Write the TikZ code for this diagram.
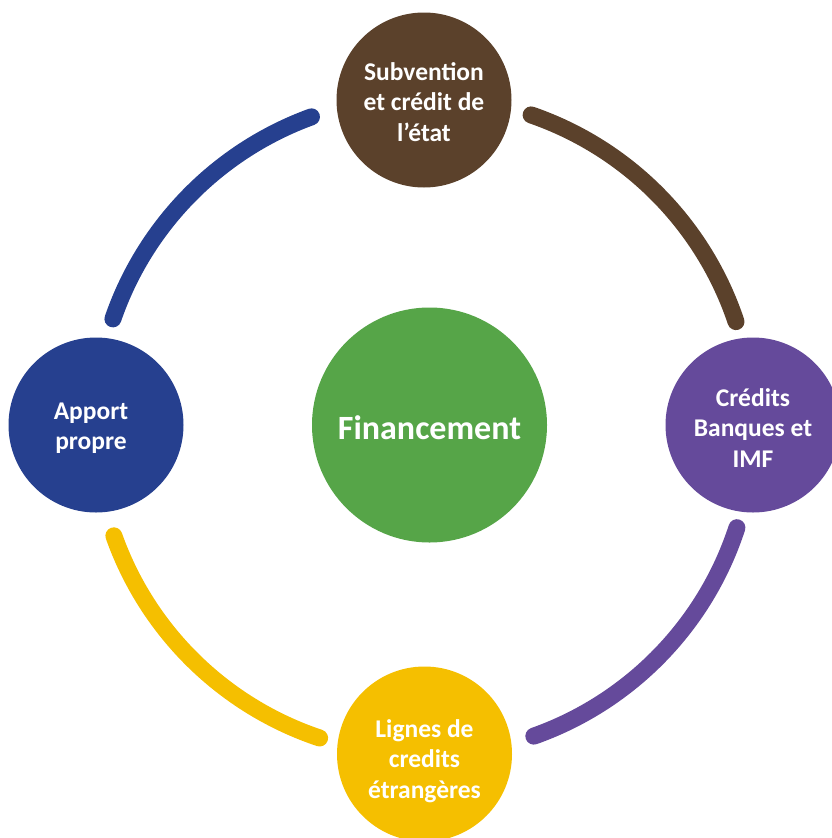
\documentclass[tikz,border=0pt]{standalone}
\usepackage{fontspec}
\setmainfont{Carlito}
\usetikzlibrary{calc}
\definecolor{cblue}{HTML}{26408F}
\definecolor{cbrown}{HTML}{5B412B}
\definecolor{cpurple}{HTML}{654A9B}
\definecolor{cyellow}{HTML}{F5BF00}
\definecolor{cgreen}{HTML}{56A548}
\tikzset{
  bubble/.style={circle, inner sep=0pt, minimum size=175pt, fill=#1},
  bubbletext/.style={inner sep=0pt, text=white, align=center,
    font=\bfseries\fontsize{25.5}{30.5}\selectfont},
  hub/.style={circle, inner sep=0pt, minimum size=235pt, fill=cgreen},
  hubtext/.style={inner sep=0pt, text=white, font=\bfseries\fontsize{34}{40}\selectfont},
  ring/.style={line width=17pt, line cap=round}
}
\begin{document}
\begin{tikzpicture}[x=1pt,y=-1pt]
\useasboundingbox (0,0) rectangle (832,838);
\coordinate (O) at (424,426);
% arcs
\draw[ring, cblue]   ($(O)+(-110:329)$) arc (-110:-161:329);
\draw[ring, cbrown]  ($(O)+(-71:329)$)  arc (-71:-18.5:329);
\draw[ring, cpurple] ($(O)+(18:329)$)   arc (18:70.5:329);
\draw[ring, cyellow] ($(O)+(160.5:329)$) arc (160.5:108.5:329);
% circles
\node[hub] (fin) at (429.5,425) {};
\node[bubble=cbrown] (top) at (424,100) {};
\node[bubble=cpurple] (right) at (753,425) {};
\node[bubble=cblue] (left) at (96,425) {};
\node[bubble=cyellow] (bottom) at (424.5,754) {};
% labels
\node[hubtext] (fintext) at ($(fin)+(0,3)$) {Financement};
\node[bubbletext] (toptext) at ($(top)+(0,2)$) {Subvention\\et crédit de\\l’état};
\node[bubbletext] (righttext) at ($(right)+(0,3)$) {Crédits\\Banques et\\IMF};
\node[bubbletext] (lefttext) at ($(left)+(-5,3)$) {Apport\\propre};
\node[bubbletext] (bottomtext) at ($(bottom)+(0,7)$) {Lignes de\\credits\\étrangères};
\end{tikzpicture}
\end{document}
